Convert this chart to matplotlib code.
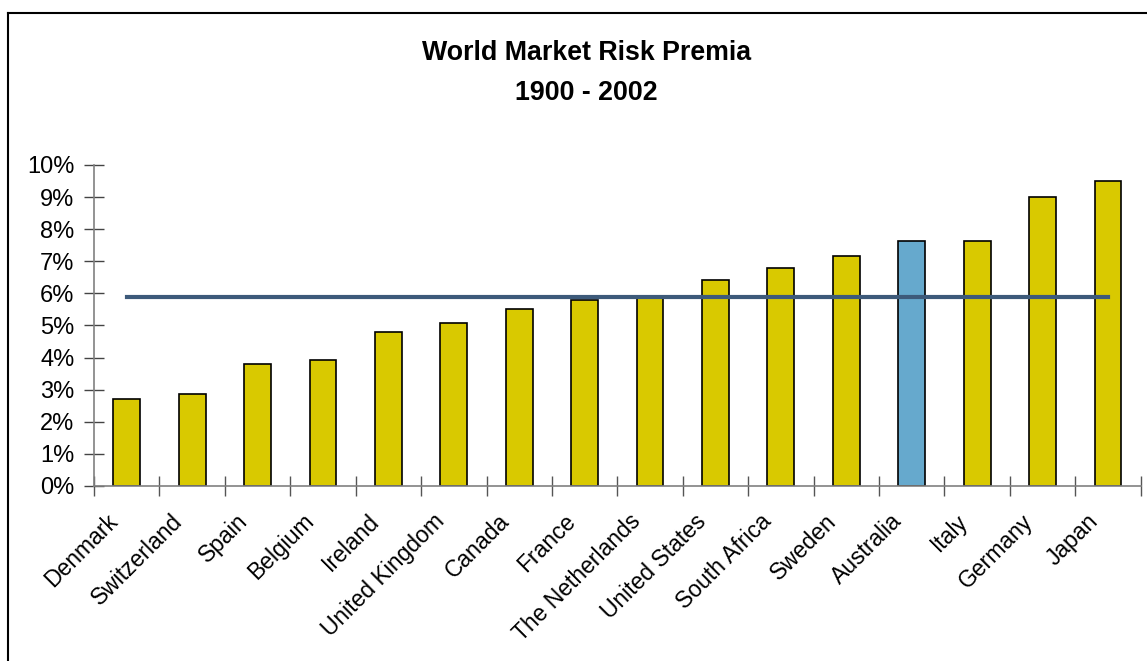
import matplotlib.pyplot as plt
from matplotlib.lines import Line2D
from matplotlib.ticker import FuncFormatter, MultipleLocator
from matplotlib.transforms import ScaledTranslation

plt.rcParams['font.family'] = ['Liberation Sans', 'DejaVu Sans']

# data
countries = ['Denmark', 'Switzerland', 'Spain', 'Belgium', 'Ireland',
             'United Kingdom', 'Canada', 'France', 'The Netherlands',
             'United States', 'South Africa', 'Sweden', 'Australia',
             'Italy', 'Germany', 'Japan']
premia = [0.0271, 0.0287, 0.0381, 0.0392, 0.0480, 0.0508, 0.0551, 0.0578,
          0.0590, 0.0641, 0.0679, 0.0717, 0.0762, 0.0762, 0.0900, 0.0950]
average = 0.059
highlight = 'Australia'

yellow = '#d9c900'
blue = '#66a9cd'

fig = plt.figure(figsize=(11.47, 6.61), dpi=100)
ax = fig.add_axes([0.082, 0.2648, 0.9125, 0.4856])

x = list(range(len(countries)))
colors = [blue if c == highlight else yellow for c in countries]
ax.bar(x, premia, width=0.41, color=colors, edgecolor='black', linewidth=1.2, zorder=2)
ax.plot([x[0], x[-1]], [average, average], color='#3d5a7a', linewidth=3, zorder=3)

ax.set_xlim(-0.5, len(countries) - 0.5)
ax.set_ylim(0, 0.10)
ax.yaxis.set_major_locator(MultipleLocator(0.01))
ax.yaxis.set_major_formatter(FuncFormatter(lambda v, p: f'{v * 100:.0f}%'))

# ticks sit between the categories, labels under the bars
ax.set_xticks([i - 0.5 for i in x] + [len(countries) - 0.5])
ax.set_xticklabels([])
ax.set_xticks(x, minor=True)
ax.set_xticklabels(countries, minor=True, rotation=45, ha='right', va='center',
                   rotation_mode='anchor', fontsize=16.5)
ax.tick_params(axis='x', which='minor', length=0, pad=23)
ax.tick_params(axis='x', which='major', direction='inout', length=14, width=1, color='#555555')
ax.tick_params(axis='y', direction='inout', length=14, width=1, color='#444444',
               labelsize=17, pad=7)
shift = ScaledTranslation(-13 / 100, 0, fig.dpi_scale_trans)
for lab in ax.get_xticklabels(minor=True):
    lab.set_transform(lab.get_transform() + shift)

for side in ['top', 'right']:
    ax.spines[side].set_visible(False)
ax.spines['left'].set_color('#808080')
ax.spines['bottom'].set_color('#808080')
ax.spines['left'].set_linewidth(1.2)
ax.spines['bottom'].set_linewidth(1.2)

fig.text(0.511, 1 - 53 / 661, 'World Market Risk Premia', ha='center', va='center',
         fontsize=19.3, fontweight='bold')
fig.text(0.511, 1 - 93 / 661, '1900 - 2002', ha='center', va='center',
         fontsize=19.3, fontweight='bold')

# outer frame of the chart area
fig.add_artist(Line2D([8 / 1147, 8 / 1147], [0, 1 - 12.5 / 661], color='black', linewidth=1.5))
fig.add_artist(Line2D([8 / 1147, 1], [1 - 12.5 / 661, 1 - 12.5 / 661], color='black', linewidth=1.5))

fig.savefig('out.png', dpi=100)
